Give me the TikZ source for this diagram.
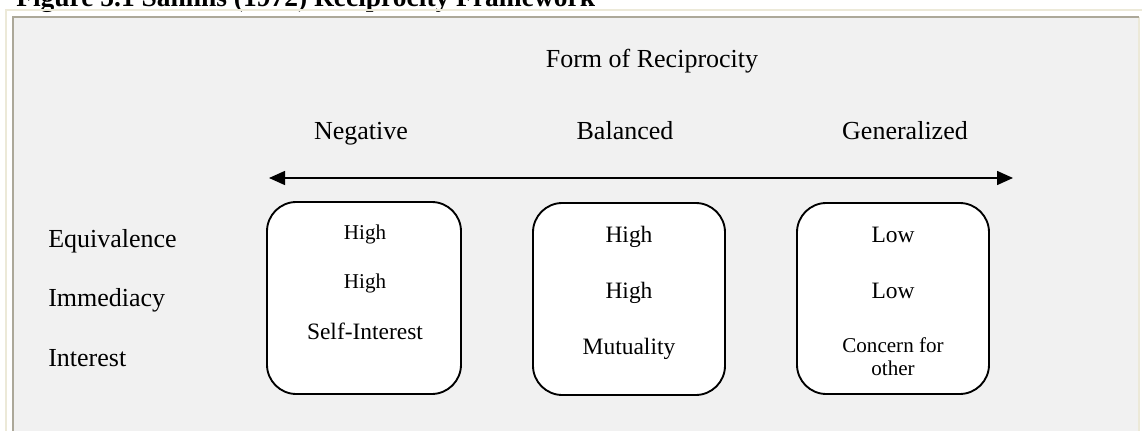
\documentclass[tikz,border=0pt]{standalone}
\usepackage{fontspec}
\setmainfont{Liberation Serif}
\usetikzlibrary{arrows.meta}
\definecolor{framebeige}{HTML}{ECE9D8}
\definecolor{framegray}{HTML}{ACA899}
\definecolor{panelfill}{HTML}{F1F1F1}
\begin{document}
\begin{tikzpicture}[x=0.75pt,y=-0.75pt,
  heading/.style={font=\fontsize{19.5}{22}\selectfont, anchor=base, inner sep=0pt},
  rowlabel/.style={font=\fontsize{19.5}{22}\selectfont, anchor=base west, inner sep=0pt},
  cell/.style={font=\fontsize{17.6}{20}\selectfont, anchor=base, inner sep=0pt},
  smallcell/.style={font=\fontsize{15.8}{17.3}\selectfont, anchor=base, inner sep=0pt},
  formbox/.style={draw=black, line width=1.4pt, fill=white, rounded corners=22pt},
  scalearrow/.style={line width=1.1pt, {Triangle[length=12pt,width=10.5pt]}-{Triangle[length=12pt,width=10.5pt]}}
]
\clip (0,0) rectangle (1142,431);
\fill[white] (0,0) rectangle (1142,431);

% page title, cut off at the top edge
\node[font=\bfseries\fontsize{20.6}{24}\selectfont, anchor=base west, inner sep=0pt] (title) at (16,7) {Figure 5.1 Sahlins (1972) Reciprocity Framework};

% outer frame and grey panel
\draw[framebeige, line width=1.5pt] (6,431) -- (6,10) -- (1142,10);
\fill[panelfill] (13,17) rectangle (1139,431);
\draw[framebeige, line width=1.5pt] (1139,17) -- (1139,431);
\draw[framegray, line width=1.5pt] (13,431) -- (13,17) -- (1139,17);

% headings
\node[heading] (form) at (652,68) {Form of Reciprocity};
\node[heading] (neg) at (361,140) {Negative};
\node[heading] (bal) at (625,140) {Balanced};
\node[heading] (gen) at (905,140) {Generalized};

% double-headed scale
\coordinate (scaleL) at (269,178);
\coordinate (scaleR) at (1013,178);
\draw[scalearrow] (scaleL) -- (scaleR);

% row labels
\node[rowlabel] (equiv) at (48,247) {Equivalence};
\node[rowlabel] (immed) at (48,306) {Immediacy};
\node[rowlabel] (inter) at (48,366) {Interest};

% boxes
\draw[formbox] (267,202) rectangle (461,394);
\draw[formbox] (533,203) rectangle (725,395);
\draw[formbox] (797,203) rectangle (989,394);

% negative reciprocity
\node[smallcell] (n1) at (365,239) {High};
\node[smallcell] (n2) at (365,288) {High};
\node[cell] (n3) at (365,339) {Self-Interest};

% balanced reciprocity
\node[cell] (b1) at (629,243) {High};
\node[cell] (b2) at (629,298) {High};
\node[cell] (b3) at (629,354) {Mutuality};

% generalized reciprocity
\node[cell] (g1) at (893,243) {Low};
\node[cell] (g2) at (893,298) {Low};
\node[smallcell, align=center, anchor=north] (g3) at (893,337) {Concern for\\other};
\end{tikzpicture}
\end{document}
